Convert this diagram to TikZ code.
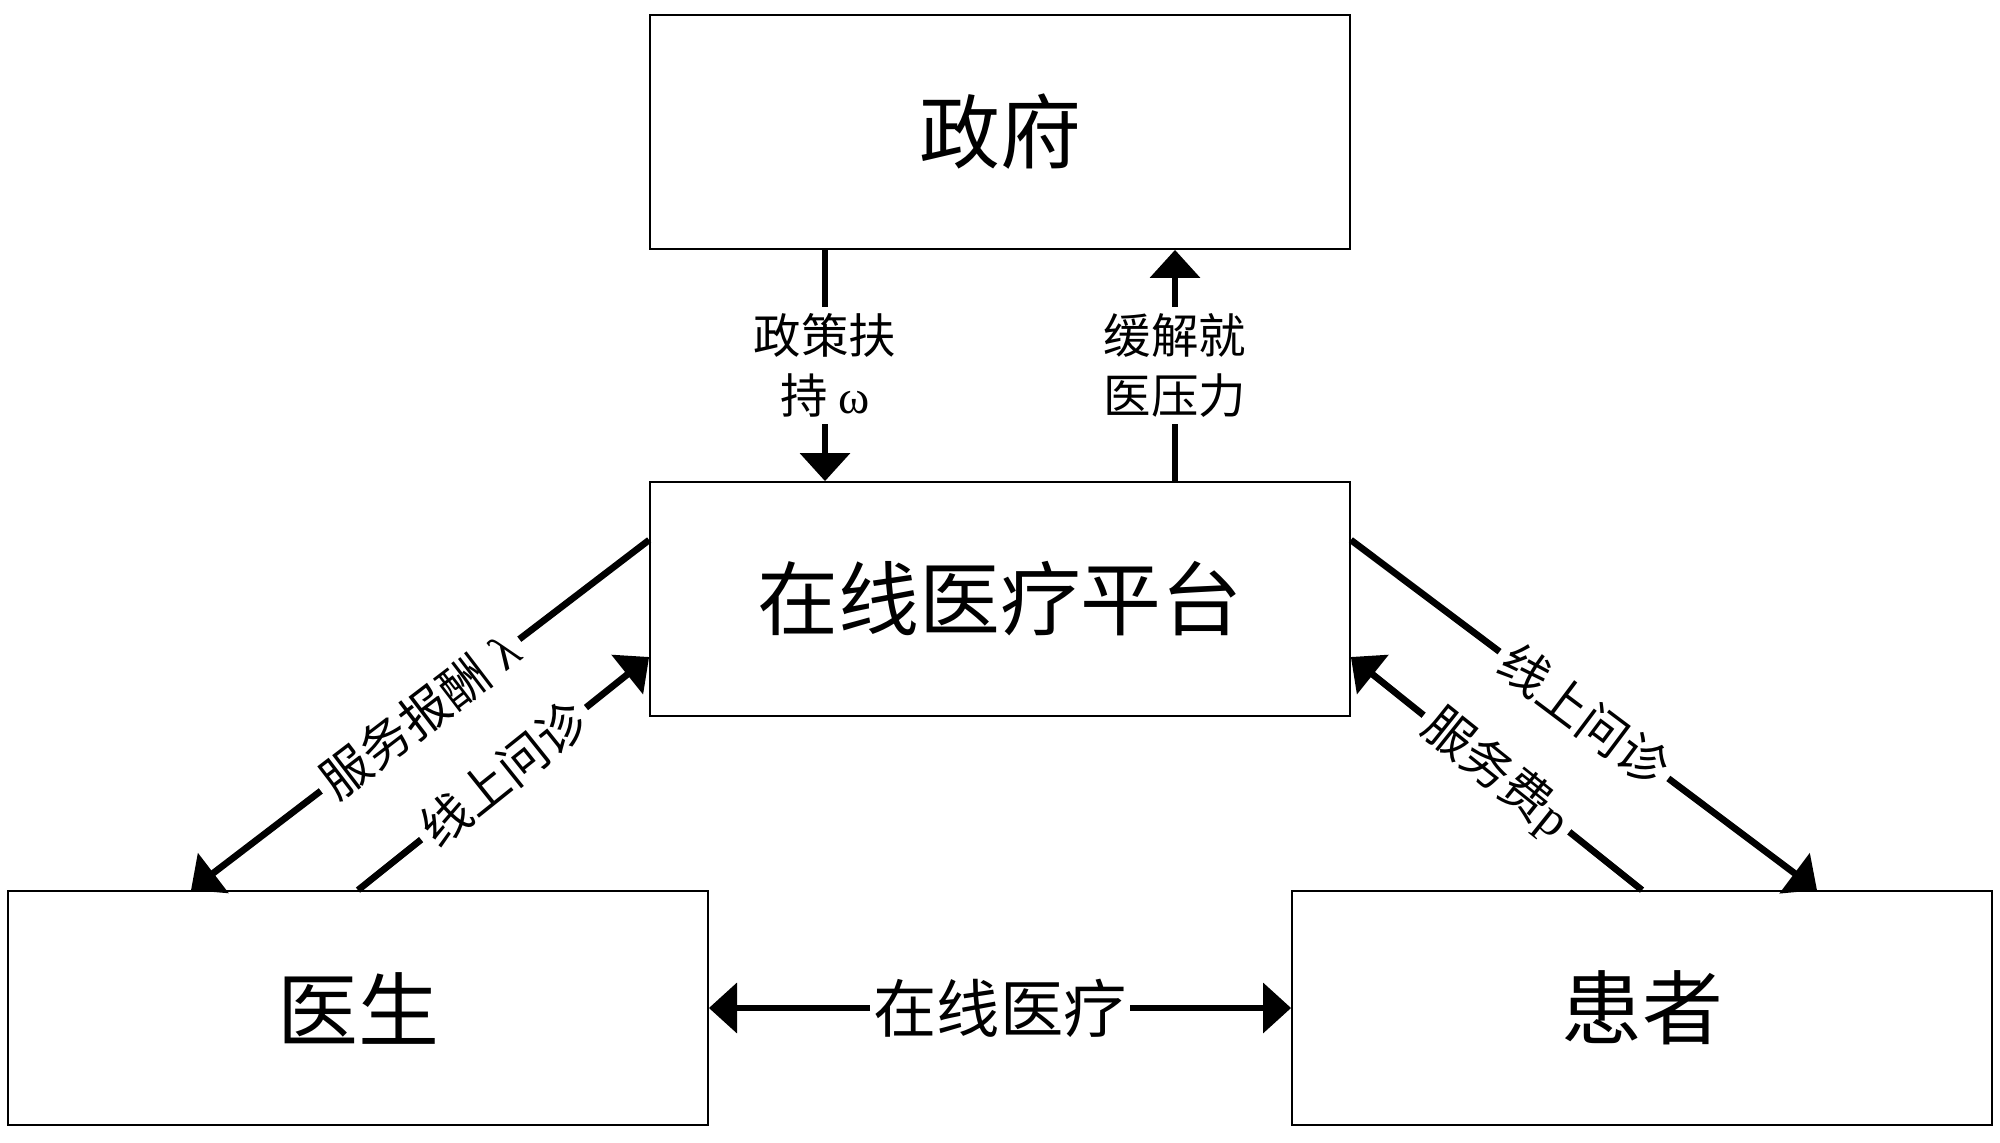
\documentclass[tikz,border=0pt]{standalone}
\usepackage{fontspec}
\setmainfont{Liberation Serif}
\newfontfamily\cjk{Noto Sans CJK SC}
\usetikzlibrary{arrows.meta}

\begin{document}
\begin{tikzpicture}[
    >={Triangle[length=8pt,width=14pt]},
    box/.style={draw, line width=0.5pt, minimum width=7cm, minimum height=2.34cm,
                font=\cjk\fontsize{23}{27}\selectfont},
    flow/.style={line width=1.9pt},
    tag/.style={fill=white, inner sep=2pt, align=center,
                font=\cjk\fontsize{13.5}{17}\selectfont},
    slopetag/.style={tag, sloped, font=\cjk\fontsize{14}{17}\selectfont}
  ]
      % Canvas
      \useasboundingbox (0,0) rectangle (20,11.42);

      % Boxes
      \node[box] (gov)  at (10,10.10)   {政府};
      \node[box] (plat) at (10,5.43)    {在线医疗平台};
      \node[box] (doc)  at (3.58,1.34)  {医生};
      \node[box] (pat)  at (16.42,1.34) {患者};

      % Government and platform
      \draw[flow, ->] ([xshift=-1.75cm]gov.south) -- node[tag] {政策扶\\持 {\rmfamily ω}} ([xshift=-1.75cm]plat.north);
      \draw[flow, ->] ([xshift=1.75cm]plat.north) -- node[tag] {缓解就\\医压力} ([xshift=1.75cm]gov.south);

      % Platform and doctor
      \draw[flow, ->] ([yshift=0.59cm]plat.west) -- node[slopetag] {服务报酬\hspace{0.3em}{\rmfamily λ}} ([xshift=-1.67cm]doc.north);
      \draw[flow, ->] (doc.north) -- node[slopetag] {线上问诊} ([yshift=-0.58cm]plat.west);

      % Platform and patient
      \draw[flow, ->] ([yshift=0.59cm]plat.east) -- node[slopetag] {线上问诊} ([xshift=1.75cm]pat.north);
      \draw[flow, ->] (pat.north) -- node[slopetag] {服务费{\rmfamily p}} ([yshift=-0.58cm]plat.east);

      % Doctor and patient
      \draw[flow, <->] (doc.east) -- node[tag, inner sep=1pt, font=\cjk\fontsize{18}{22}\selectfont] {在线医疗} (pat.west);

\end{tikzpicture}
\end{document}
